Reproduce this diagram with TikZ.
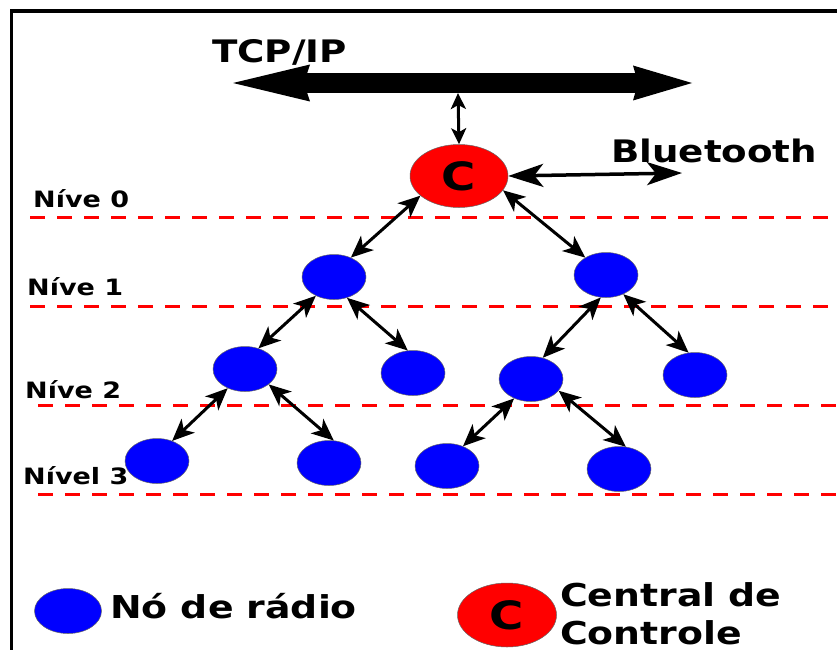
\documentclass[tikz,border=0pt]{standalone}
\usepackage{fontspec}
\setmainfont{DejaVu Sans}[FakeStretch=1.2]
\usetikzlibrary{shapes.geometric,arrows.meta}

\tikzset{
  radio/.style={ellipse,fill=blue,draw=black!60,line width=0.5pt,minimum width=64pt,minimum height=45pt,inner sep=0pt},
  central/.style={ellipse,fill=red,draw=black!60,line width=0.5pt,minimum width=98pt,minimum height=63pt,inner sep=0pt,font=\bfseries\fontsize{39}{39}\selectfont},
  link/.style={line width=3pt,{Stealth[length=22pt,width=19pt,inset=6pt]}-{Stealth[length=22pt,width=19pt,inset=6pt]}},
  level/.style={red,line width=3pt,dash pattern=on 15pt off 12pt},
  lbl/.style={anchor=base west,inner sep=0pt,font=\bfseries\fontsize{22.5}{22.5}\selectfont},
  biglbl/.style={anchor=base west,inner sep=0pt,font=\bfseries\fontsize{31}{31}\selectfont},
  leglbl/.style={biglbl,font=\bfseries\fontsize{31.5}{31.5}\selectfont},
}

\begin{document}
\begin{tikzpicture}[x=1pt,y=-1pt]
    \useasboundingbox (0,0) rectangle (837,650);
    \draw[line width=3.5pt] (837,11) -- (11.5,11) -- (11.5,650); % frame, open on right and bottom

    % levels
    \draw[level] (30,217) -- (837,217);
    \draw[level] (30,306) -- (837,306);
    \draw[level] (38,405) -- (837,405);
    \draw[level] (38,494) -- (837,494);
    \node[lbl] (n0) at (33,207) {Níve 0};
    \node[lbl] (n1) at (27,295) {Níve 1};
    \node[lbl] (n2) at (25,398) {Níve 2};
    \node[lbl] (n3) at (23,484) {Nível 3};

    % backbone
    \coordinate (tcpw) at (233,83);
    \coordinate (tcpe) at (692,83);
    \coordinate (bus) at (458,93);
    \draw[line width=20pt,{Stealth[length=77pt,width=37pt,inset=6pt,line width=0pt]}-{Stealth[length=59pt,width=35pt,inset=5pt,line width=0pt]}] (tcpw) -- (tcpe);
    \node[biglbl] (tcp) at (212,63) {TCP/IP};

    % central and tree
    \node[central] (c) at (459,176) {C};
    \node[radio] (l1a) at (334,277) {};
    \node[radio] (l1b) at (606,275) {};
    \node[radio] (l2a) at (245,369) {};
    \node[radio] (l2b) at (413,373) {};
    \node[radio] (l2c) at (531,379) {};
    \node[radio] (l2d) at (695,375) {};
    \node[radio] (l3a) at (157,461) {};
    \node[radio] (l3b) at (329,463) {};
    \node[radio] (l3c) at (447,466) {};
    \node[radio] (l3d) at (619,469) {};

    \draw[line width=3pt,{Stealth[length=16pt,width=15pt,inset=4pt]}-{Stealth[length=16pt,width=15pt,inset=4pt]}] (c.north) -- (bus);
    \coordinate (bt) at (682,173);
    \draw[line width=3.5pt,{Stealth[length=35pt,width=23pt,inset=9pt]}-{Stealth[length=35pt,width=23pt,inset=9pt]}] (c.east) -- (bt);
    \node[biglbl] (btlbl) at (611,162) {Bluetooth};

    \draw[link] (c.207) -- (l1a.49);
    \draw[link] (c.342) -- (l1b.140);
    \draw[link] (l1a.226) -- (l2a.57);
    \draw[link] (l1a.302) -- (l2b.103);
    \draw[link] (l1b.257) -- (l2c.61);
    \draw[link] (l1b.312) -- (l2d.106);
    \draw[link] (l2a.228) -- (l3a.53);
    \draw[link] (l2a.327) -- (l3b.78);
    \draw[link] (l2c.229) -- (l3c.51);
    \draw[link] (l2c.337) -- (l3d.73);

    % legend
    \node[radio,minimum width=67pt] (legradio) at (68,611) {};
    \node[leglbl] (legradiotxt) at (110,618) {Nó de rádio};
    \node[central,minimum width=99pt,minimum height=64pt] (legc) at (507,615) {C};
    \node[leglbl] (legctxt1) at (560,606) {Central de};
    \node[leglbl] (legctxt2) at (560,644) {Controle};
\end{tikzpicture}
\end{document}
